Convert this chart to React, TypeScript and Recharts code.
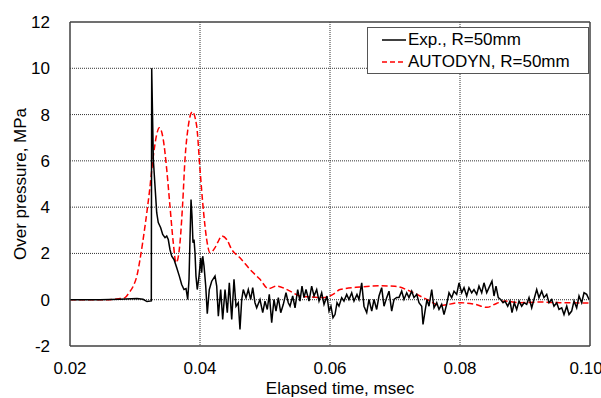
import React from "react";
import {
  LineChart,
  Line,
  XAxis,
  YAxis,
  CartesianGrid,
  Legend,
  ReferenceLine,
} from "recharts";

// Experimental record (time in msec, over pressure in MPa)
const expTime = [
  0.02, 0.02462, 0.02769, 0.03031, 0.03123, 0.03185, 0.03251, 0.03257,
  0.03282, 0.03308, 0.03334, 0.03358, 0.03395, 0.03426, 0.03462, 0.03488,
  0.03512, 0.03538, 0.03565, 0.036, 0.03642, 0.03682, 0.03718, 0.03754,
  0.03785, 0.03811, 0.03831, 0.03846, 0.03862, 0.03877, 0.03892, 0.03908,
  0.03923, 0.03938, 0.03958, 0.03985, 0.04011, 0.04026, 0.04042, 0.04062,
  0.04088, 0.04112, 0.04143, 0.0418, 0.04231, 0.04257, 0.04282, 0.04318,
  0.04349, 0.04385, 0.0442, 0.04451, 0.04488, 0.04523, 0.04554, 0.04589,
  0.04615, 0.04642, 0.04666, 0.04708, 0.04743, 0.0478, 0.04811, 0.04846,
  0.04872, 0.04923, 0.04965, 0.05, 0.05035, 0.05066, 0.05103, 0.05138,
  0.05169, 0.05205, 0.05242, 0.05282, 0.05323, 0.05358, 0.05385, 0.05426,
  0.05462, 0.05503, 0.05538, 0.05569, 0.056, 0.05631, 0.05677, 0.05718,
  0.05754, 0.05795, 0.05831, 0.05872, 0.05908, 0.05954, 0.05985, 0.06015,
  0.06046, 0.06077, 0.06108, 0.06138, 0.0618, 0.06215, 0.06257, 0.06292,
  0.06334, 0.06369, 0.06415, 0.06446, 0.06488, 0.06523, 0.06565, 0.066,
  0.06642, 0.06677, 0.06718, 0.06754, 0.06795, 0.06831, 0.06872, 0.06908,
  0.06949, 0.06985, 0.07026, 0.07062, 0.07103, 0.07138, 0.0718, 0.07215,
  0.07257, 0.07292, 0.07334, 0.07369, 0.07411, 0.07431, 0.07462, 0.07492,
  0.07523, 0.07565, 0.076, 0.07642, 0.07677, 0.07718, 0.07754, 0.07795,
  0.07831, 0.07872, 0.07908, 0.07949, 0.07985, 0.08026, 0.08062, 0.08103,
  0.08138, 0.0818, 0.08215, 0.08257, 0.08292, 0.08334, 0.08369, 0.08411,
  0.08446, 0.08492, 0.08523, 0.08554, 0.08589, 0.08626, 0.08662, 0.08692,
  0.08734, 0.08769, 0.088, 0.08835, 0.08872, 0.08908, 0.08949, 0.08985,
  0.09026, 0.09062, 0.09103, 0.09138, 0.0918, 0.09215, 0.09257, 0.09292,
  0.09334, 0.09369, 0.09411, 0.09446, 0.09488, 0.09523, 0.09565, 0.096,
  0.09642, 0.09677, 0.09718, 0.09754, 0.09795, 0.09831, 0.09872, 0.09908,
  0.09949, 0.09985,
];
const expPressure = [
  0, 0, 0.02, 0.05, 0.02, -0.08, -0.05, 10.0,
  6.06, 4.9, 3.76, 3.33, 3.11, 2.82, 2.68, 2.75,
  2.6, 2.17, 1.88, 1.74, 1.38, 1.02, 0.66, 0.44,
  0.48, 0.01, 0.88, 2.6, 4.33, 3.61, 2.46, 2.6,
  2.03, 1.02, 0.44, 1.02, 1.81, 1.17, 1.88, 1.45,
  0.59, -0.6, 0.44, 0.8, 1.02, 0.59, -0.71, 0.44,
  -0.85, 0.44, -0.56, 0.73, -0.85, 0.88, -0.28, -0.13,
  -1.28, 0.01, 0.44, 0.09, 0.44, 0.01, 0.52, -0.13,
  -0.35, 0.01, -0.56, -0.06, -0.42, 0.23, -0.99, 0.01,
  -0.49, 0.09, -0.56, -0.2, 0.3, -0.13, -0.28, 0.16,
  -0.35, 0.44, -0.06, 0.59, 0.09, 0.44, -0.06, 0.59,
  0.16, 0.44, -0.06, 0.3, -0.2, 0.16, -0.49, -0.28,
  -0.78, -0.64, -0.13, -0.28, 0.09, -0.06, 0.23, 0.01,
  0.3, -0.06, 0.23, 0.01, 0.73, -0.28, -0.56, 0.01,
  -0.49, 0.01, -0.42, 0.16, 0.52, -0.28, 0.09, 0.37,
  -0.49, 0.01, 0.1, 0.1, 0.37, 0.01, 0.3, 0.09,
  0.37, 0.09, 0.23, -0.13, -0.28, -1.07, -0.49, 0.01,
  -0.28, 0.44, -0.35, -0.13, -0.42, -0.2, -0.64, -0.2,
  0.3, 0.09, 0.37, 0.23, 0.73, 0.3, 0.52, 0.16,
  0.52, 0.3, 0.44, 0.23, 0.59, 0.3, 0.73, 0.3,
  0.52, 0.8, 0.16, 0.59, 0.09, 0.01, -0.13, -0.06,
  -0.28, -0.06, -0.56, -0.13, -0.42, -0.06, -0.28, -0.13,
  -0.2, 0.09, -0.35, 0.01, 0.44, 0.09, 0.37, 0.09,
  0.23, -0.13, 0.01, -0.28, -0.13, -0.42, -0.35, -0.64,
  -0.28, -0.64, -0.49, -0.06, -0.35, 0.16, -0.13, 0.3,
  0.23, 0.01,
];

// AUTODYN simulation
const simTime = [
  0.02, 0.02462, 0.02692, 0.02769, 0.02846, 0.02908, 0.02974, 0.03031,
  0.03077, 0.03154, 0.0322, 0.03282, 0.03334, 0.03374, 0.03435, 0.03488,
  0.03538, 0.03589, 0.03631, 0.03662, 0.03692, 0.03734, 0.03769, 0.0382,
  0.03882, 0.03949, 0.04, 0.04051, 0.04103, 0.04154, 0.04231, 0.04277,
  0.04334, 0.04411, 0.04488, 0.04615, 0.04769, 0.04923, 0.05051, 0.0518,
  0.05385, 0.05538, 0.05692, 0.05892, 0.06046, 0.06154, 0.06462, 0.06769,
  0.07, 0.07231, 0.07385, 0.07538, 0.07692, 0.08, 0.08231, 0.08415,
  0.08569, 0.08692, 0.08923, 0.09231, 0.09538, 0.1,
];
const simPressure = [
  0, 0, 0.02, 0.05, 0.09, 0.3, 0.59, 1.05,
  1.74, 3.18, 4.62, 6.2, 7.14, 7.43, 6.92, 5.63,
  4.04, 2.46, 1.6, 1.8, 2.46, 4.19, 6.06, 7.5,
  8.12, 7.5, 5.63, 3.9, 2.6, 2.03, 2.25, 2.5,
  2.75, 2.6, 2.17, 1.81, 1.31, 0.88, 0.48, 0.59,
  0.37, 0.16, 0.12, 0.09, 0.23, 0.44, 0.55, 0.6,
  0.58, 0.37, 0.16, -0.06, -0.25, -0.13, -0.2, -0.33,
  -0.15, -0.06, -0.13, -0.1, -0.13, -0.14,
];

const xTicks = [0.02, 0.04, 0.06, 0.08, 0.1];
const yTicks = [-2, 0, 2, 4, 6, 8, 10, 12];

const expData = expTime.map((t, i) => ({ t, p: expPressure[i] }));
const simData = simTime.map((t, i) => ({ t, p: simPressure[i] }));

const FONT = "'Liberation Sans', Arial, sans-serif";

function LegendBox() {
  const rows = [
    { name: "Exp., R=50mm", color: "#000000", dash: undefined },
    { name: "AUTODYN, R=50mm", color: "#ff0000", dash: "5 3" },
  ];
  return (
    <div
      style={{
        width: 222,
        height: 47,
        boxSizing: "border-box",
        border: "1px solid #555",
        background: "#fff",
        fontFamily: FONT,
        fontSize: 17,
        color: "#000",
        paddingTop: 1,
      }}
    >
      {rows.map((r) => (
        <div
          key={r.name}
          style={{ display: "flex", alignItems: "center", height: 22 }}
        >
          <svg width={40} height={10} style={{ flex: "none" }}>
            <line
              x1={14}
              x2={38}
              y1={5}
              y2={5}
              stroke={r.color}
              strokeWidth={1.5}
              strokeDasharray={r.dash}
            />
          </svg>
          <span style={{ lineHeight: "22px" }}>{r.name}</span>
        </div>
      ))}
    </div>
  );
}

export default function App() {
  return (
    <div style={{ position: "absolute", left: 0, top: 0, background: "#fff" }}>
      <LineChart
        width={601}
        height={398}
        margin={{ top: 22, right: 11, bottom: 0, left: 0 }}
      >
        <CartesianGrid
          stroke="#333"
          strokeDasharray="1 1"
          horizontalValues={[0, 2, 4, 6, 8, 10]}
          verticalValues={[0.04, 0.06, 0.08]}
        />
        <XAxis
          type="number"
          dataKey="t"
          domain={[0.02, 0.1]}
          ticks={xTicks}
          allowDataOverflow
          tickFormatter={(v) => v.toFixed(2)}
          height={52}
          tickLine={false}
          tickSize={6}
          tickMargin={10}
          axisLine={{ stroke: "#404040", strokeWidth: 1.5 }}
          tick={{ fill: "#000", fontSize: 17, fontFamily: FONT }}
          label={{
            content: ({ viewBox }: any) => (
              <text
                x={viewBox.x + viewBox.width / 2 + 10}
                y={viewBox.y + 48}
                textAnchor="middle"
                fill="#000"
                fontSize={17}
                fontFamily={FONT}
              >
                Elapsed time, msec
              </text>
            ),
          }}
        />
        <YAxis
          type="number"
          domain={[-2, 12]}
          ticks={yTicks}
          width={70}
          tickLine={false}
          tickSize={6}
          tickMargin={14}
          axisLine={{ stroke: "#404040", strokeWidth: 1.5 }}
          tick={{ fill: "#000", fontSize: 17, fontFamily: FONT }}
          label={{
            content: ({ viewBox }: any) => {
              const cx = viewBox.x + 20;
              const cy = viewBox.y + viewBox.height / 2;
              return (
                <text
                  x={cx}
                  y={cy}
                  transform={`rotate(-90 ${cx} ${cy})`}
                  textAnchor="middle"
                  dominantBaseline="central"
                  fill="#000"
                  fontSize={17}
                  fontFamily={FONT}
                >
                  Over pressure, MPa
                </text>
              );
            },
          }}
        />
        <ReferenceLine y={12} stroke="#404040" strokeWidth={1.5} />
        <ReferenceLine x={0.1} stroke="#404040" strokeWidth={1.5} />
        <Line
          data={simData}
          dataKey="p"
          name="AUTODYN, R=50mm"
          type="monotone"
          stroke="#ff0000"
          strokeWidth={1.5}
          strokeDasharray="6 3"
          dot={false}
          isAnimationActive={false}
        />
        <Line
          data={expData}
          dataKey="p"
          name="Exp., R=50mm"
          type="linear"
          stroke="#000000"
          strokeWidth={1.5}
          dot={false}
          isAnimationActive={false}
        />
        <Legend
          layout="vertical"
          align="center"
          verticalAlign="middle"
          wrapperStyle={{ left: 367, top: 27, width: 222, height: 47 }}
          content={() => <LegendBox />}
        />
      </LineChart>
    </div>
  );
}
